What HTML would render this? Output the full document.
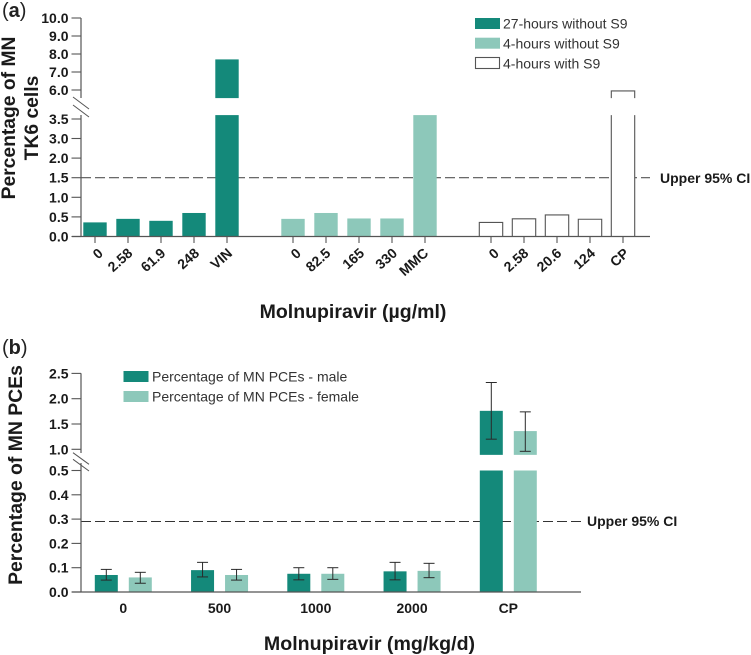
<!DOCTYPE html>
<html lang="en">
<head>
<meta charset="utf-8">
<title>Molnupiravir micronucleus charts</title>
<style>
html,body{margin:0;padding:0;background:#fff;width:751px;height:655px;overflow:hidden}
svg{display:block;font-family:"Liberation Sans",Arial,sans-serif}
.b{font-weight:700;fill:#1a1a1a}
.t{font-weight:700;font-size:14px;fill:#1a1a1a}
.l{font-size:14px;fill:#333}
</style>
</head>
<body>
<svg id="chart" width="751" height="655" viewBox="0 0 751 655" xmlns="http://www.w3.org/2000/svg">
  <text x="2" y="17" font-size="20" fill="#222">(<tspan font-weight="700">a</tspan>)</text>
  <text x="2" y="354" font-size="20" fill="#222">(<tspan font-weight="700">b</tspan>)</text>

  <text class="b" font-size="19.3" text-anchor="middle" transform="translate(15,118) rotate(-90)">Percentage of MN</text>
  <text class="b" font-size="19.3" text-anchor="middle" transform="translate(38,118) rotate(-90)">TK6 cells</text>
  <text class="b" font-size="19.5" text-anchor="middle" x="353" y="318">Molnupiravir (µg/ml)</text>
  <text class="t" x="660" y="183">Upper 95% CI</text>

  <rect x="475" y="18" width="25" height="11" fill="#14897a"/>
  <text class="l" x="503" y="28.5">27-hours without S9</text>
  <rect x="475" y="37.7" width="25" height="11" fill="#8dc8ba"/>
  <text class="l" x="503" y="48.5">4-hours without S9</text>
  <rect x="475.5" y="57.5" width="24" height="11" fill="#fff" stroke="#555" stroke-width="1.1"/>
  <text class="l" x="503" y="68.5">4-hours with S9</text>

  <text class="b" font-size="19.4" text-anchor="middle" transform="translate(22,475) rotate(-90)">Percentage of MN PCEs</text>
  <text class="b" font-size="19.6" text-anchor="middle" x="369.5" y="650">Molnupiravir (mg/kg/d)</text>
  <text class="t" x="587" y="526">Upper 95% CI</text>

  <rect x="123.5" y="371" width="25" height="11" fill="#14897a"/>
  <text class="l" x="152" y="381.5">Percentage of MN PCEs - male</text>
  <rect x="123.5" y="391" width="25" height="11" fill="#8dc8ba"/>
  <text class="l" x="152" y="401.5">Percentage of MN PCEs - female</text>
</svg>
<script>
// ---- Panel (a) data ----
const aCategories = ['0','2.58','61.9','248','VIN','0','82.5','165','330','MMC','0','2.58','20.6','124','CP'];
const aGroups = [0,0,0,0,0,1,1,1,1,1,2,2,2,2,2];
const aValues = [0.36,0.45,0.4,0.6,7.7,0.45,0.6,0.46,0.46,3.6,0.36,0.45,0.55,0.44,5.95];
const aTicks = [0,0.5,1,1.5,2,3,3.5,6,7,8,9,10];
const aTickLabels = ['0.0','0.5','1.0','1.5','2.0','3.0','3.5','6.0','7.0','8.0','9.0','10.0'];
const aThreshold = [1.5];

// ---- Panel (b) data ----
const bCategories = ['0','500','1000','2000','CP'];
const bMale = [0.07,0.09,0.075,0.085,1.76];
const bFemale = [0.06,0.07,0.075,0.087,1.36];
const bMaleHigh = [0.093,0.122,0.1,0.122,2.32];
const bMaleLow = [0.049,0.062,0.05,0.05,1.2];
const bFemaleHigh = [0.081,0.093,0.1,0.118,1.74];
const bFemaleLow = [0.036,0.049,0.052,0.059,0.96];
const bTicks = [0,0.1,0.2,0.3,0.4,0.5,1,1.5,2,2.5];
const bTickLabels = ['0.0','0.1','0.2','0.3','0.4','0.5','1.0','1.5','2.0','2.5'];
const bThreshold = [0.29];

const svg = document.getElementById('chart');
const NS = 'http://www.w3.org/2000/svg';
const DARK = '#14897a', LIGHT = '#8dc8ba', GREY = '#555';

function add(tag, attrs, text) {
  const el = document.createElementNS(NS, tag);
  for (const k in attrs) el.setAttribute(k, attrs[k]);
  if (text !== undefined) el.textContent = text;
  svg.appendChild(el);
  return el;
}
function mark(el, name) {
  
  
  return el;
}

// ---- Axis functions ----
const A_LOW_TOP = 3.6, A_UP_BOTTOM = 5.55;
function ay(v) {
  if (v <= 2) return 236.5 - v * 39.2;
  if (v <= 3) return 158.1 - (v - 2) * 19.6;
  if (v <= A_LOW_TOP) return 138.5 - (v - 3) * 39;
  return 90 - (v - 6) * 18;
}
function ax(i) { return 95 + 33 * (i + aGroups[i]); }

const B_LOW_TOP = 0.5, B_UP_BOTTOM = 0.89;
function by(v) {
  if (v <= B_LOW_TOP) return 592 - v * 243;
  return 449.3 - (v - 1) * 50.6;
}
function bx(i) { return 123.3 + 96.25 * i; }

function line(name, x1, y1, x2, y2, stroke, w, dash) {
  const el = add('line', {x1, y1, x2, y2, stroke, 'stroke-width': w});
  if (dash) el.setAttribute('stroke-dasharray', dash);
  return mark(el, name);
}

// ---- Panel (a) bars ----
const BW_A = 23.4;
function filledA(i, color) {
  const x = ax(i) - BW_A / 2, v = aValues[i];
  if (v > A_UP_BOTTOM) {
    mark(add('rect', {x, y: ay(v), width: BW_A, height: ay(A_UP_BOTTOM) - ay(v), fill: color}), 'bar-upper-' + aCategories[i]);
    mark(add('rect', {x, y: ay(A_LOW_TOP), width: BW_A, height: 236.5 - ay(A_LOW_TOP), fill: color}), 'bar-lower-' + aCategories[i]);
  } else {
    const top = ay(Math.min(v, A_LOW_TOP));
    mark(add('rect', {x, y: top, width: BW_A, height: 236.5 - top, fill: color}), 'bar-' + aCategories[i]);
  }
}
function outlineA(i) {
  const l = ax(i) - BW_A / 2, r = l + BW_A, v = aValues[i];
  const st = {fill: '#fff', stroke: GREY, 'stroke-width': 1.1};
  if (v > A_UP_BOTTOM) {
    const t = ay(A_LOW_TOP);
    mark(add('rect', {x: l, y: t, width: BW_A, height: 236.5 - t, fill: '#fff'}), 'bar-background-' + aCategories[i]);
    mark(add('path', Object.assign({d: `M${l} ${ay(A_UP_BOTTOM)}V${ay(v)}H${r}V${ay(A_UP_BOTTOM)}`}, st)), 'bar-upper-' + aCategories[i]);
    mark(add('path', Object.assign({d: `M${l} ${t}V236.5M${r} 236.5V${t}`}, st)), 'bar-lower-' + aCategories[i]);
  } else {
    const t = ay(Math.min(v, A_LOW_TOP));
    mark(add('path', Object.assign({d: `M${l} 236.5V${t}H${r}V236.5`}, st)), 'bar-' + aCategories[i]);
  }
}

// threshold under the bars
line('panel-a-threshold-line', 81, ay(aThreshold[0]), 650, ay(aThreshold[0]), GREY, 1.1, '10 4');
aValues.forEach(function (v, i) {
  if (aGroups[i] === 0) filledA(i, DARK);
  else if (aGroups[i] === 1) filledA(i, LIGHT);
  else outlineA(i);
});

// ---- Panel (a) axes ----
line('panel-a-y-axis-upper', 81, 18, 81, 98, GREY, 1.2);
line('panel-a-y-axis-lower', 81, 115, 81, 237, GREY, 1.2);
line('panel-a-axis-break-1', 73, 97, 89, 109, GREY, 1);
line('panel-a-axis-break-2', 73, 105, 89, 117, GREY, 1);
line('panel-a-x-axis', 72, 236.5, 650, 236.5, GREY, 1.2);
aTicks.forEach(function (v, i) {
  const y = ay(v);
  line('panel-a-y-tick', 71.5, y, 81, y, GREY, 1.1);
  const t = add('text', {class: 't', x: 68.5, y: y + 5, 'text-anchor': 'end'}, aTickLabels[i]);
  mark(t, 'panel-a-y-tick-label');
});
aCategories.forEach(function (c, i) {
  const x = ax(i);
  line('panel-a-x-tick', x, 236.5, x, 243, GREY, 1.1);
  const t = add('text', {class: 't', 'text-anchor': 'middle', dy: '0.35em'}, c);
  mark(t, 'panel-a-x-tick-label');
  const half = t.getComputedTextLength() / 2;
  t.setAttribute('transform', `translate(${x + 7 - 1.1 * half},${251 + 0.65 * half}) rotate(-42)`);
});

// ---- Panel (b) bars ----
const BW_B = 23;
function barB(cx, v, color, name) {
  const x = cx - BW_B / 2;
  if (v > B_UP_BOTTOM) {
    mark(add('rect', {x, y: by(v), width: BW_B, height: by(B_UP_BOTTOM) - by(v), fill: color}), name + '-upper');
    mark(add('rect', {x, y: by(B_LOW_TOP), width: BW_B, height: 592 - by(B_LOW_TOP), fill: color}), name + '-lower');
  } else {
    const top = by(Math.min(v, B_LOW_TOP));
    mark(add('rect', {x, y: top, width: BW_B, height: 592 - top, fill: color}), name);
  }
}
function errB(cx, lo, hi, name) {
  const c = '#2a2a2a', w = 1;
  line(name + '-stem', cx, by(lo), cx, by(hi), c, w);
  line(name + '-cap-high', cx - 5.5, by(hi), cx + 5.5, by(hi), c, w);
  line(name + '-cap-low', cx - 5.5, by(lo), cx + 5.5, by(lo), c, w);
}
line('panel-b-threshold-line', 81, by(bThreshold[0]), 582, by(bThreshold[0]), '#333', 1, '10 4');
bCategories.forEach(function (c, i) {
  const m = bx(i) - 17, f = bx(i) + 17;
  barB(m, bMale[i], DARK, 'bar-male-' + c);
  barB(f, bFemale[i], LIGHT, 'bar-female-' + c);
  errB(m, bMaleLow[i], bMaleHigh[i], 'error-male-' + c);
  errB(f, bFemaleLow[i], bFemaleHigh[i], 'error-female-' + c);
  const t = add('text', {class: 't', x: bx(i), y: 613, 'text-anchor': 'middle'}, c);
  mark(t, 'panel-b-x-tick-label');
});

// ---- Panel (b) axes ----
line('panel-b-y-axis-upper', 81, 373.3, 81, 453, GREY, 1.2);
line('panel-b-y-axis-lower', 81, 463, 81, 592.5, GREY, 1.2);
line('panel-b-axis-break-1', 73, 452.7, 89, 464.3, GREY, 1);
line('panel-b-axis-break-2', 73, 459.3, 89, 471, GREY, 1);
line('panel-b-x-axis', 72, 592, 581, 592, GREY, 1.2);
bTicks.forEach(function (v, i) {
  const y = by(v);
  line('panel-b-y-tick', 71.5, y, 81, y, GREY, 1.1);
  const t = add('text', {class: 't', x: 68.5, y: y + 5, 'text-anchor': 'end'}, bTickLabels[i]);
  mark(t, 'panel-b-y-tick-label');
});
</script>
</body>
</html>
